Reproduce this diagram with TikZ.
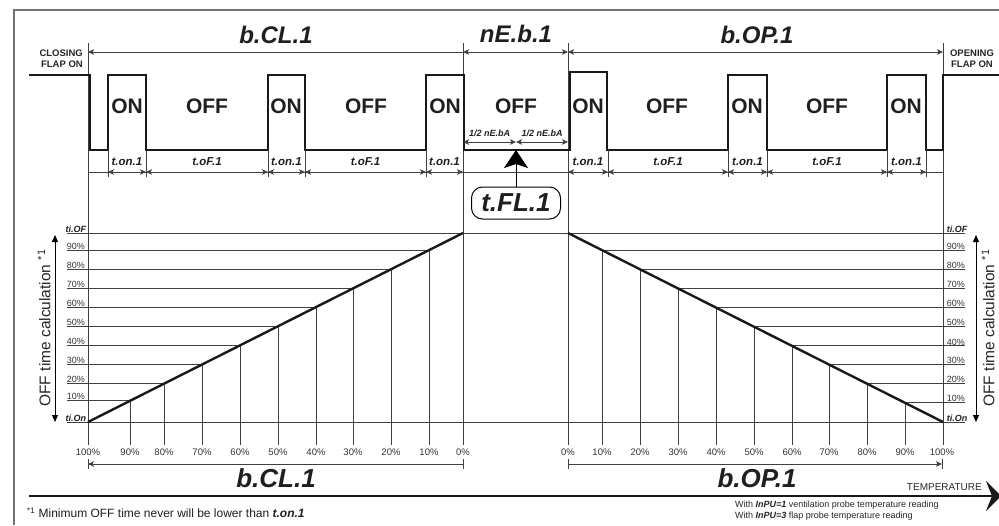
\documentclass[tikz,border=0pt]{standalone}
\usepackage{fontspec}
\setmainfont{Liberation Sans}
\usetikzlibrary{arrows.meta}
\begin{document}
\begin{tikzpicture}[x=1pt,y=-1pt,
  frame/.style={line width=1.3pt, draw=black!55},
  thinl/.style={line width=0.8pt, draw=black!75},
  wave/.style={line width=2.6pt, draw=black!90, line join=miter},
  ramp/.style={line width=2.4pt, draw=black!90},
  tipS/.tip={Stealth[length=6pt,width=5.5pt,inset=1.5pt]},
  dimarr/.style={thinl, tipS-tipS},
  vaxis/.style={line width=0.9pt, {Triangle[length=7pt,width=6pt]}-{Triangle[length=7pt,width=6pt]}},
  bigtxt/.style={font=\fontsize{24}{24}\selectfont\bfseries\itshape, text=black!88, inner sep=0pt},
  bottxt/.style={font=\fontsize{26}{26}\selectfont\bfseries\itshape, text=black!88, inner sep=0pt},
  statetxt/.style={font=\fontsize{21}{21}\selectfont\bfseries, text=black!88, inner sep=0pt},
  segtxt/.style={font=\fontsize{11.5}{12}\selectfont\bfseries\itshape, text=black!88, inner sep=0pt},
  halftxt/.style={font=\fontsize{9}{9}\selectfont\bfseries\itshape, text=black!88, inner sep=0pt},
  lvltxt/.style={font=\fontsize{9}{9}\selectfont, text=black!80, inner sep=0.6pt},
  titxt/.style={font=\fontsize{9}{9}\selectfont\bfseries\itshape, text=black!88, inner sep=0.6pt},
  pcttxt/.style={font=\fontsize{9.5}{10}\selectfont, text=black!80, inner sep=0pt},
  flaptxt/.style={font=\fontsize{9.5}{11}\selectfont\bfseries, text=black!85, inner sep=0pt},
  axistxt/.style={font=\fontsize{15.5}{15.5}\selectfont, text=black!85, inner sep=0pt},
  flnode/.style={draw, line width=1pt, rounded corners=11pt, minimum width=89pt,
    minimum height=32pt, inner sep=0pt, font=\fontsize{26}{26}\selectfont\bfseries\itshape, text=black!88}
]
\useasboundingbox (0,0) rectangle (999,525);

% outer frame
\draw[frame] (14,525) -- (14,10) -- (999,10);

% boundary lines through both parts
\foreach \x in {88,463,568,943} \draw[thinl] (\x,43) -- (\x,445);

% top spans
\draw[thinl, tipS-] (88,52) -- (463,52);
\draw[dimarr] (463,52) -- (568,52);
\draw[thinl, tipS-tipS] (568,52) -- (943,52);
\node[bigtxt] (tbcl) at (276,35) {b.CL.1};
\node[bigtxt] (tneb) at (516,34) {nE.b.1};
\node[bigtxt] (tbop) at (757,35) {b.OP.1};

\node[flaptxt, align=right, anchor=east] (cflap) at (83,59) {CLOSING\\FLAP ON};
\node[flaptxt, align=center] (oflap) at (972,59) {OPENING\\FLAP ON};

% flap output signal
\draw[wave] (29,75) -- (90,75) -- (90,150) -- (108,150) -- (108,75) -- (146,75) -- (146,150)
  -- (268,150) -- (268,75) -- (305,75) -- (305,150) -- (426,150) -- (426,75) -- (464,75)
  -- (464,150) -- (570,150) -- (570,72) -- (607,72) -- (607,150) -- (728,150) -- (728,75)
  -- (767,75) -- (767,150) -- (887,150) -- (887,75) -- (926,75) -- (926,150) -- (943,150)
  -- (943,75) -- (999,75);

\foreach \x/\c in {127/1,286/2,445/3,588/4,747/5,906/6}
  \node[statetxt] (on\c) at (\x,106) {ON};
\foreach \x/\c in {207/1,366/2,516/3,667/4,827/5}
  \node[statetxt] (off\c) at (\x,106) {OFF};

% time dimensions
\foreach \x in {108,146,268,305,426,608,728,767,887,926} \draw[thinl] (\x,150) -- (\x,177);
\draw[thinl] (88,172) -- (943,172);
\foreach \a/\b/\t/\c in {108/146/t.on.1/1,146/268/t.oF.1/2,268/305/t.on.1/3,305/426/t.oF.1/4,
    426/463/t.on.1/5,568/608/t.on.1/6,608/728/t.oF.1/7,728/767/t.on.1/8,767/887/t.oF.1/9,887/926/t.on.1/10}{
  \draw[dimarr] (\a,172) -- (\b,172);
  \node[segtxt] (seg\c) at ({(\a+\b)/2},162) {\t};
}
\draw[dimarr] (463,142) -- (516,142);
\draw[dimarr] (516,142) -- (568,142);
\node[halftxt] (hl) at (489.5,133) {1/2 nE.bA};
\node[halftxt] (hr) at (542,133) {1/2 nE.bA};

% flap time marker
\node[flnode] (fl) at (516,203) {t.FL.1};
\coordinate (fltip) at (516,150);
\draw[line width=0.9pt, -{Stealth[length=18pt,width=24pt,inset=4pt]}] (fl.north) -- (fltip);

% OFF time graphs: level lines
\draw[thinl] (67,233) -- (965,233);
\draw[thinl] (67,422) -- (965,422);

\foreach \x/\p in {130/10,164/20,202/30,240/40,278/50,316/60,353/70,391/80,429/90}{
  \pgfmathsetmacro\yy{422-(\x-88)/375*189}
  \draw[thinl] (67,\yy) -- (\x,\yy) -- (\x,445);
  \node[lvltxt, anchor=south west] (ll\p) at (66,\yy) {\p\%};
}
\foreach \x/\p in {602/90,640/80,678/70,716/60,754/50,792/40,829/30,867/20,905/10}{
  \pgfmathsetmacro\yy{233+(\x-568)/375*189}
  \draw[thinl] (965,\yy) -- (\x,\yy) -- (\x,445);
  \node[lvltxt, anchor=south west] (rl\p) at (946,\yy) {\p\%};
}
\draw[ramp] (88,422) -- (463,233);
\draw[ramp] (568,233) -- (943,422);

\node[titxt, anchor=south east] (tiofl) at (87,233) {ti.OF};
\node[titxt, anchor=south east] (tionl) at (87,422) {ti.On};
\node[titxt, anchor=south west] (tiofr) at (946,233) {ti.OF};
\node[titxt, anchor=south west] (tionr) at (946,422) {ti.On};

% vertical axes
\draw[vaxis] (55,235) -- (55,422);
\draw[vaxis] (976,235) -- (976,422);
\node[axistxt, rotate=90] (axl) at (44,328) {OFF time calculation \textsuperscript{*1}};
\node[axistxt, rotate=90] (axr) at (988,328) {OFF time calculation \textsuperscript{*1}};

% band percentages
\foreach \x/\p in {88/100,130/90,164/80,202/70,240/60,278/50,316/40,353/30,391/20,429/10,463/0}
  \node[pcttxt] (bl\p) at (\x,452) {\p\%};
\foreach \x/\p in {568/0,602/10,640/20,678/30,716/40,754/50,792/60,829/70,867/80,905/90,942/100}
  \node[pcttxt] (br\p) at (\x,452) {\p\%};

\draw[thinl, tipS-] (88,464) -- (463,464);
\draw[thinl] (88,459) -- (88,469);
\draw[thinl] (463,459) -- (463,469);
\draw[thinl, -tipS] (568,464) -- (942,464);
\draw[thinl] (568,459) -- (568,469);
\draw[thinl] (942,459) -- (942,469);
\node[bottxt] (bbcl) at (276,478) {b.CL.1};
\node[bottxt] (bbop) at (757,478) {b.OP.1};

% temperature axis
\coordinate (tstart) at (29,496);
\coordinate (tend) at (1001,496);
\draw[line width=1.8pt, draw=black!90, -{Stealth[length=15pt,width=30pt,inset=6pt]}] (tstart) -- (tend);
\node[font=\fontsize{10}{10}\selectfont, text=black!85, inner sep=0pt, anchor=east] (temp) at (982,487) {TEMPERATURE};
\node[font=\fontsize{9}{11}\selectfont, text=black!85, inner sep=0pt, align=left, anchor=north west] (probe) at (735,501)
  {With \textbf{\textit{InPU=1}} ventilation probe temperature reading\\
   With \textbf{\textit{InPU=3}} flap probe temperature reading};

% footnote
\node[font=\fontsize{12}{12}\selectfont, text=black!88, inner sep=0pt, anchor=west] (note) at (27,513)
  {\textsuperscript{*1} Minimum OFF time never will be lower than \textbf{\textit{t.on.1}}};
\end{tikzpicture}
\end{document}
